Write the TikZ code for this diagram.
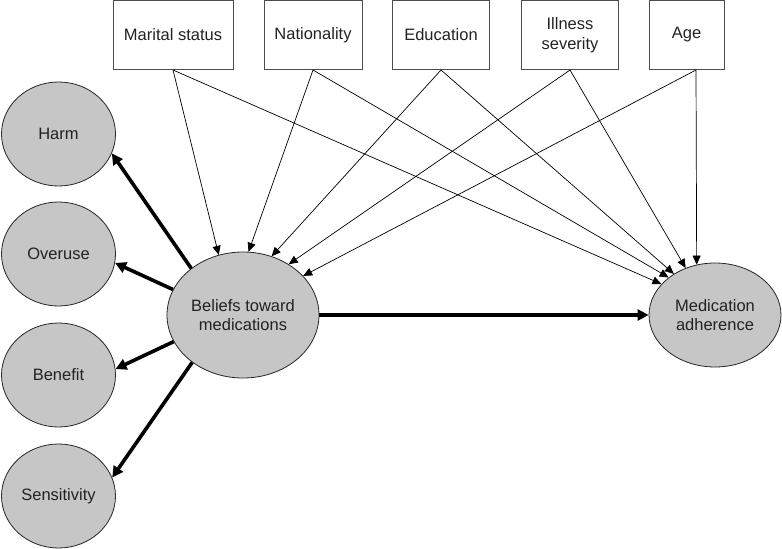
\documentclass[tikz,border=0pt]{standalone}
\usepackage{fontspec}
\setmainfont{Liberation Sans}
\usepackage{xcolor}
\usepackage{tikz}
\usetikzlibrary{shapes.geometric,arrows.meta,calc}
\definecolor{latentgray}{RGB}{198,198,198}
\definecolor{inkgray}{RGB}{34,34,34}
\tikzset{
    varbox/.style={draw=black!70, line width=1pt, rectangle, inner sep=0pt, minimum height=69pt, align=center, text=inkgray, font=\fontsize{16.5}{20}\selectfont},
    latent/.style={draw=black!85, line width=0.8pt, ellipse, fill=latentgray, inner sep=0pt, align=center, text=inkgray, font=\fontsize{16.5}{19.5}\selectfont},
    thinpath/.style={-{Triangle[length=9pt,width=8pt]}, line width=0.7pt},
    thickpath/.style={-{Triangle[length=11pt,width=11pt]}, line width=3.6pt}}

\begin{document}
\begin{tikzpicture}[x=1pt,y=-1pt]
\useasboundingbox (0,0) rectangle (782,549);

\node[varbox, minimum width=120pt] (marital) at (173,35) {Marital status};
\node[varbox, minimum width=98pt] (nation) at (313,35) {Nationality};
\node[varbox, minimum width=97pt] (edu) at (441,35) {Education};
\node[varbox, minimum width=97pt] (ill) at (570,35) {Illness\\severity};
\node[varbox, minimum width=75pt] (age) at (686.5,35) {Age};
\coordinate (ageout) at ([xshift=9.5pt]age.south);

\node[latent, minimum width=114pt, minimum height=104pt] (harm) at (58.5,134) {Harm};
\node[latent, minimum width=114pt, minimum height=104pt] (overuse) at (58.5,254) {Overuse};
\node[latent, minimum width=114pt, minimum height=104pt] (benefit) at (58.5,375) {Benefit};
\node[latent, minimum width=114pt, minimum height=104pt] (sens) at (58.5,496) {Sensitivity};

\node[latent, minimum width=152pt, minimum height=126pt] (belief) at (243,315) {Beliefs toward\\medications};
\node[latent, minimum width=132pt, minimum height=104pt] (adher) at (715,315) {Medication\\adherence};

% covariates -> beliefs
\draw[thinpath] (marital.south) -- (belief.112);
\draw[thinpath] (nation.south) -- (belief.85);
\draw[thinpath] (edu.south) -- (belief.64);
\draw[thinpath] (ill.south) -- (belief.48);
\draw[thinpath] (ageout) -- (belief.33);

% covariates -> adherence
\draw[thinpath] (marital.south) -- (adher.150);
\draw[thinpath] (nation.south) -- (adher.141);
\draw[thinpath] (edu.south) -- (adher.135);
\draw[thinpath] (ill.south) -- (adher.122);
\draw[thinpath] (ageout) -- (adher.110);

\draw[thickpath] (belief.138) -- (harm.-20);
\draw[thickpath] (belief.160) -- (overuse.-9);
\draw[thickpath] (belief.201) -- (benefit.6);
\draw[thickpath] (belief.223) -- (sens.19);
\draw[thickpath] (belief) -- (adher);
\end{tikzpicture}
\end{document}
